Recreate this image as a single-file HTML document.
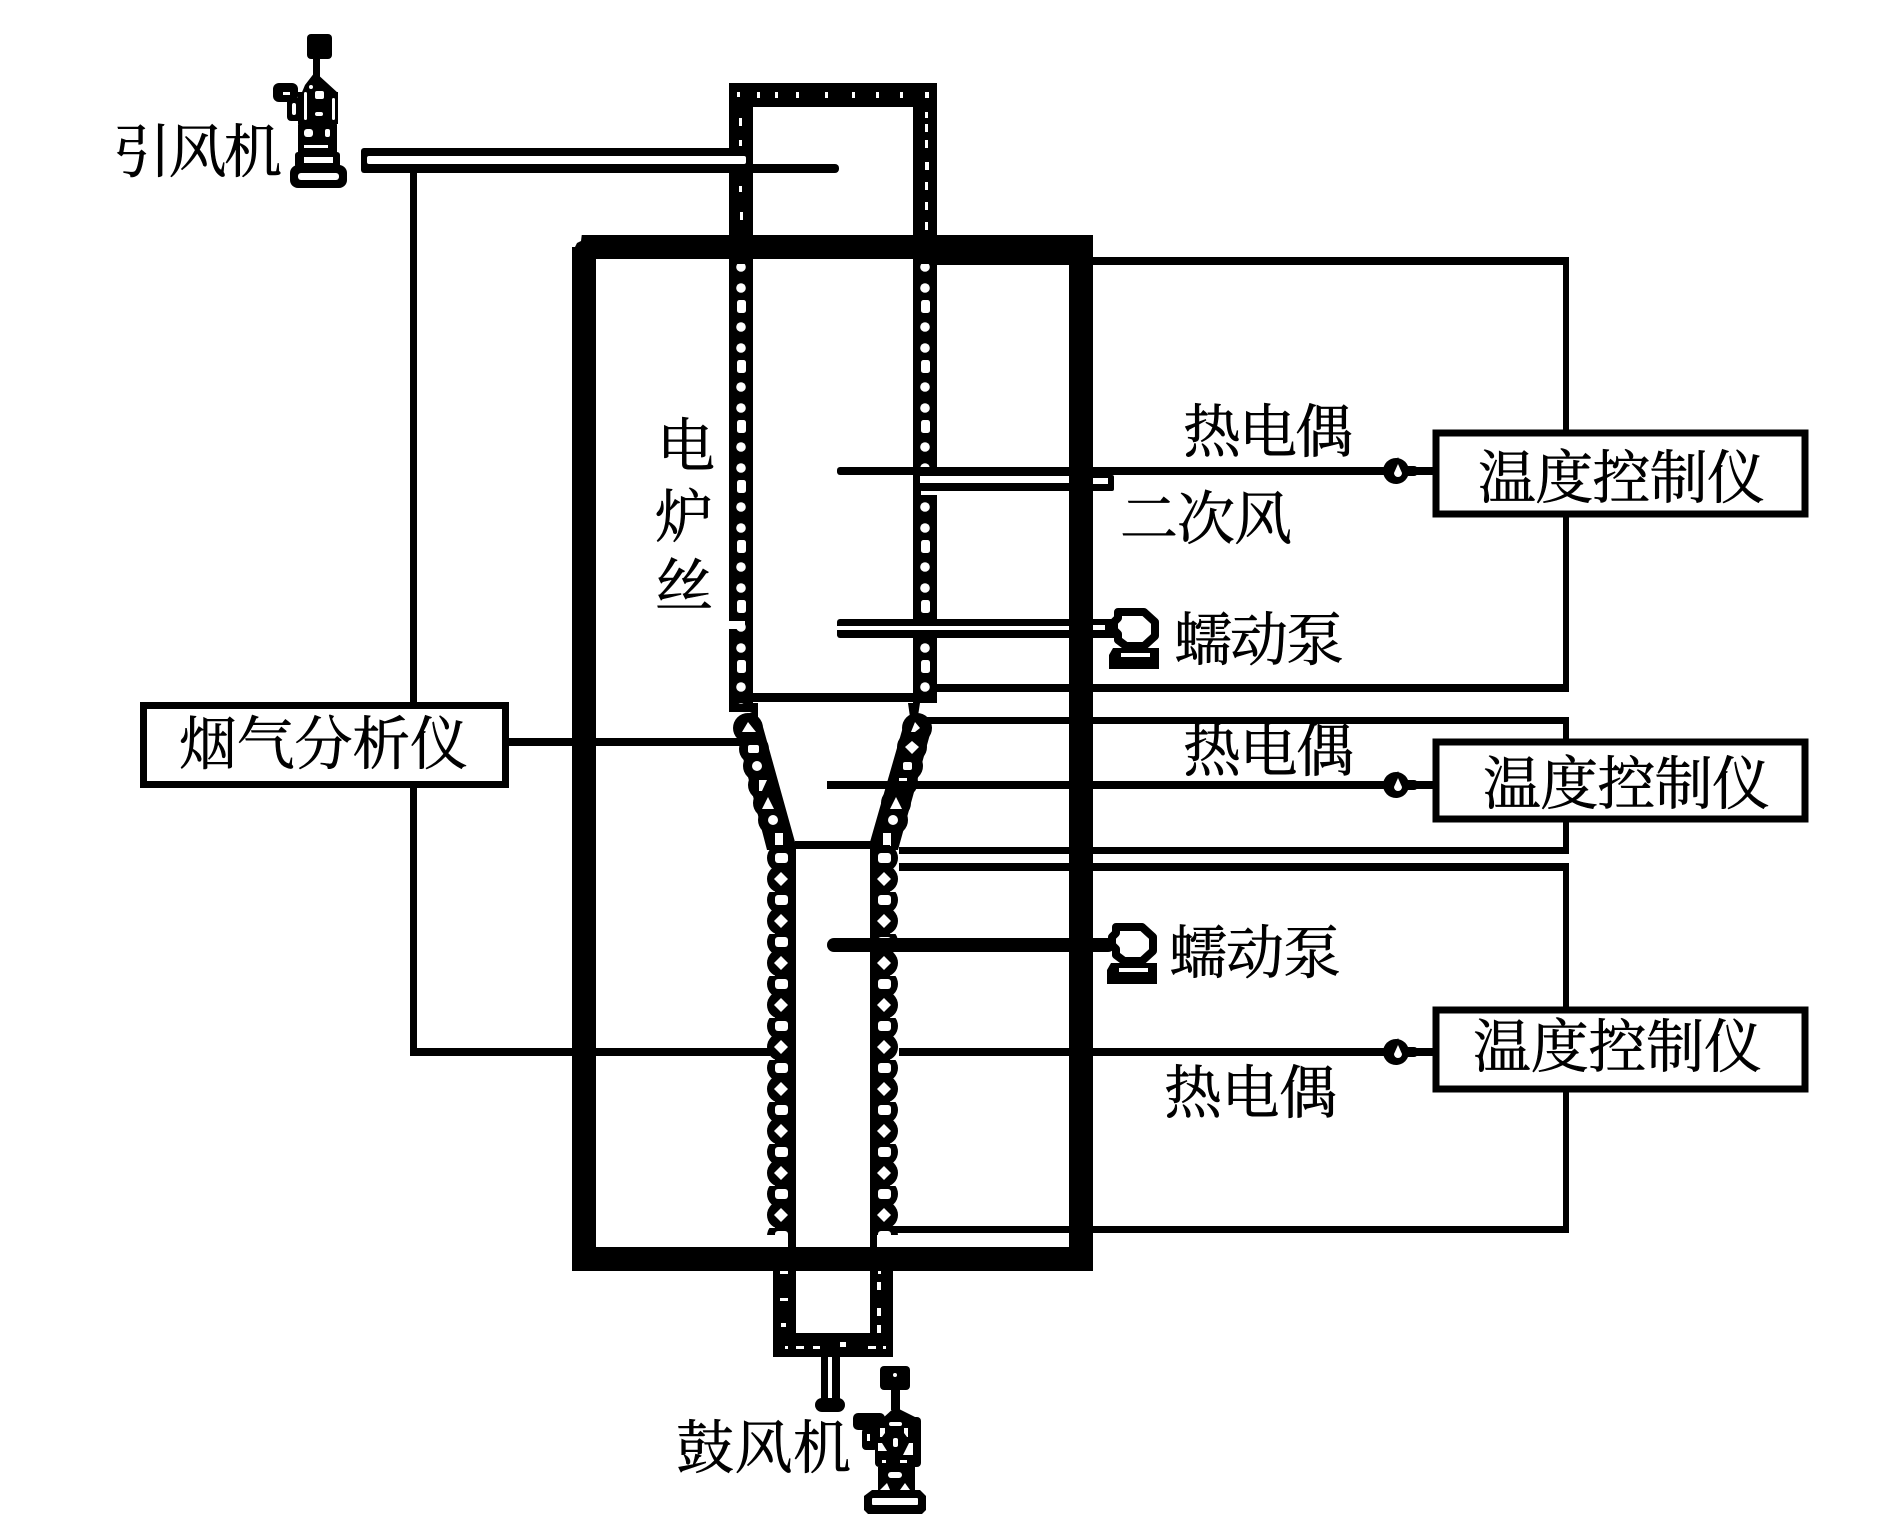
<!DOCTYPE html>
<html><head><meta charset="utf-8"><style>
html,body{margin:0;padding:0;background:#fff;width:1887px;height:1535px;overflow:hidden}
svg{display:block}
text{font-family:"Liberation Serif","Noto Serif CJK SC",serif;font-size:58px;fill:#000;stroke:#000;stroke-width:.6px}
</style></head><body>
<svg width="1887" height="1535" viewBox="0 0 1887 1535" xmlns="http://www.w3.org/2000/svg">
<defs>
<pattern id="upL" patternUnits="userSpaceOnUse" x="736" y="400" width="11" height="60">
<circle cx="5" cy="8" r="4.8" fill="#fff"/><rect x="1" y="20" width="9" height="13" rx="2.5" fill="#fff"/><circle cx="5" cy="47" r="4.8" fill="#fff"/>
</pattern>
<pattern id="upR" patternUnits="userSpaceOnUse" x="920" y="400" width="11" height="60">
<circle cx="5" cy="8" r="4.8" fill="#fff"/><rect x="1" y="20" width="9" height="13" rx="2.5" fill="#fff"/><circle cx="5" cy="47" r="4.8" fill="#fff"/>
</pattern>
<pattern id="lowL" patternUnits="userSpaceOnUse" x="760" y="850" width="40" height="42">
<circle cx="21" cy="8" r="14" fill="#000"/><circle cx="21" cy="29" r="14" fill="#000"/>
<rect x="15" y="3" width="13" height="10" rx="3" fill="#fff"/><path d="M21 22l7 7-7 7-7-7z" fill="#fff"/>
</pattern>
<pattern id="lowR" patternUnits="userSpaceOnUse" x="864" y="850" width="40" height="42">
<circle cx="20" cy="8" r="14" fill="#000"/><circle cx="20" cy="29" r="14" fill="#000"/>
<rect x="14" y="3" width="13" height="10" rx="3" fill="#fff"/><path d="M20 22l7 7-7 7-7-7z" fill="#fff"/>
</pattern>
<g id="pump">
<path d="M1126 612h18l11 10v14l-11 10h-18l-8-6v-6l-4-4v-8l4-4v-6z" fill="#fff" stroke="#000" stroke-width="8" stroke-linejoin="round"/>
<path d="M1113 648h46v21h-50v-14z" fill="#000"/>
<rect x="1121" y="653" width="29" height="4" fill="#fff"/>
</g>
<g id="tc">
<circle cx="1396" cy="471" r="13" fill="#000"/><rect x="1383" y="466" width="35" height="10" rx="4" fill="#000"/>
<path d="M1398 457l6 14-6 12-6-12z" fill="#000"/>
<path d="M1398 464l4 9a4 4 0 0 1-8 0z" fill="#fff"/>
</g>
</defs>
<rect width="1887" height="1535" fill="#fff"/>

<!-- signal lines -->
<g fill="#000">
<rect x="410" y="170" width="7" height="885"/>
<rect x="410" y="1048" width="360" height="8"/>
<rect x="899" y="1048" width="534" height="8"/>
<rect x="508" y="738" width="232" height="8"/>
<rect x="936" y="257" width="633" height="8"/>
<rect x="1563" y="257" width="6" height="435"/>
<rect x="937" y="684" width="632" height="8"/>
<rect x="927" y="717" width="642" height="7"/>
<rect x="1563" y="717" width="6" height="137"/>
<rect x="899" y="847" width="670" height="7"/>
<rect x="899" y="863" width="670" height="8"/>
<rect x="1563" y="863" width="6" height="370"/>
<rect x="877" y="1226" width="692" height="7"/>
</g>

<!-- outer furnace box -->
<rect x="584" y="247" width="497" height="1012" fill="none" stroke="#000" stroke-width="24"/>
<path d="M570 233h12l-1 8-4 2-2 4h-5z" fill="#fff"/>

<!-- upper reactor walls -->
<rect x="730" y="83" width="207" height="24" fill="#000"/>
<rect x="729" y="83" width="24" height="629" fill="#000"/>
<rect x="913" y="83" width="24" height="620" fill="#000"/>
<rect x="736" y="264" width="11" height="440" fill="url(#upL)"/>
<rect x="920" y="264" width="11" height="430" fill="url(#upR)"/>
<g fill="#fff">
<rect x="737" y="92" width="3" height="5"/><rect x="757" y="92" width="3" height="6"/><rect x="775" y="92" width="3" height="6"/><rect x="796" y="92" width="3" height="6"/><rect x="825" y="92" width="3" height="6"/><rect x="852" y="92" width="3" height="6"/><rect x="876" y="92" width="3" height="6"/><rect x="900" y="92" width="3" height="6"/><rect x="925" y="92" width="4" height="6"/>
<rect x="739" y="118" width="3" height="8"/><rect x="739" y="140" width="3" height="6"/><rect x="739" y="186" width="3" height="6"/><rect x="740" y="212" width="3" height="8"/>
<rect x="925" y="112" width="3" height="6"/><rect x="925" y="124" width="3" height="8"/><rect x="925" y="140" width="3" height="8"/><rect x="925" y="162" width="4" height="8"/><rect x="925" y="182" width="3" height="8"/><rect x="925" y="202" width="3" height="8"/><rect x="925" y="222" width="3" height="8"/>
</g>
<rect x="753" y="693" width="160" height="9" fill="#000"/>

<!-- cone -->
<polygon points="745,715 752,712 752,703 758,703 758,718 763,727 795,842 796,850 767,850 735,727" fill="#000"/>
<polygon points="908,703 920,703 918,716 932,727 898,850 870,850 870,842 903,727 910,717" fill="#000"/>
<g fill="#000">
<circle cx="748" cy="728" r="15"/><circle cx="754" cy="749" r="15"/><circle cx="758" cy="766" r="15"/><circle cx="763" cy="785" r="15"/><circle cx="768" cy="803" r="15"/><circle cx="773" cy="820" r="15"/>
<circle cx="917" cy="728" r="15"/><circle cx="912" cy="747" r="15"/><circle cx="908" cy="766" r="15"/><circle cx="903" cy="782" r="15"/><circle cx="896" cy="803" r="15"/><circle cx="893" cy="820" r="15"/>
</g>
<g fill="#fff">
<path d="M748 722l8 10h-14z"/><rect x="748" y="745" width="11" height="8" rx="2"/><circle cx="757" cy="766" r="5"/><path d="M759 780h8l-5 11h-3z"/><path d="M768 797l6 12h-12z"/><circle cx="773" cy="820" r="5"/><rect x="775" y="833" width="8" height="13"/>
<path d="M915 722l5 6-5 4h-4z"/><path d="M912 741l7 6-7 7-7-7z"/><rect x="903" y="762" width="9" height="8" rx="2"/><rect x="899" y="778" width="8" height="3"/><path d="M896 797l6 12h-12z"/><circle cx="893" cy="820" r="5"/><rect x="883" y="833" width="8" height="13"/>
</g>
<rect x="795" y="841" width="76" height="8" fill="#000"/>

<!-- lower reactor walls -->
<rect x="775" y="845" width="21" height="390" fill="#000"/>
<rect x="870" y="845" width="20" height="390" fill="#000"/>
<rect x="760" y="850" width="36" height="385" fill="url(#lowL)"/>
<rect x="864" y="850" width="36" height="385" fill="url(#lowR)"/>
<rect x="788" y="1233" width="8" height="15" fill="#000"/>
<rect x="870" y="1233" width="7" height="15" fill="#000"/>

<!-- bottom duct -->
<path fill-rule="evenodd" d="M773 1269H893V1357H773ZM796 1269V1333H870V1269Z" fill="#000"/>
<g fill="#fff">
<rect x="780" y="1271" width="8" height="3"/><rect x="780" y="1298" width="8" height="3"/><rect x="781" y="1323" width="5" height="4"/>
<rect x="878" y="1271" width="3" height="3"/><rect x="877" y="1282" width="4" height="8"/><rect x="877" y="1308" width="4" height="8"/><rect x="877" y="1325" width="4" height="8"/>
<rect x="785" y="1346" width="3" height="3"/><rect x="796" y="1346" width="8" height="3"/><rect x="813" y="1346" width="7" height="3"/><rect x="840" y="1342" width="6" height="5"/><rect x="868" y="1346" width="8" height="3"/><rect x="883" y="1346" width="3" height="3"/>
</g>
<rect x="821" y="1357" width="19" height="45" fill="#000"/>
<rect x="828" y="1357" width="4" height="42" fill="#fff"/>
<rect x="815" y="1398" width="30" height="14" rx="7" fill="#000"/>

<!-- induced-draft pipe -->
<rect x="361" y="148" width="385" height="25" rx="3" fill="#000"/>
<rect x="367" y="156" width="379" height="8" rx="2" fill="#fff"/>
<rect x="740" y="164" width="99" height="9" rx="4" fill="#000"/>

<!-- probes -->
<rect x="837" y="467" width="596" height="8" rx="3" fill="#000"/>
<rect x="920" y="475" width="194" height="16" rx="2" fill="#000"/>
<rect x="920" y="476" width="149" height="7" fill="#fff"/>
<rect x="1093" y="478" width="15" height="6" fill="#fff"/>
<rect x="921" y="491" width="16" height="4" fill="#fff"/>
<rect x="837" y="619" width="283" height="19" rx="3" fill="#000"/>
<rect x="837" y="626" width="232" height="4" fill="#fff"/>
<rect x="1093" y="625" width="12" height="5" fill="#fff"/>
<rect x="729" y="621" width="16" height="8" fill="#fff"/>
<rect x="827" y="781" width="111" height="8" rx="4" fill="#000"/>
<rect x="827" y="938" width="288" height="14" rx="7" fill="#000"/>

<!-- boxes -->
<g fill="#fff" stroke="#000" stroke-width="7">
<rect x="1436" y="433" width="369" height="81"/>
<rect x="1436" y="742" width="369" height="77"/>
<rect x="1436" y="1010" width="369" height="79"/>
<rect x="143.500" y="705.500" width="362" height="79"/>
</g>
<rect x="1410" y="467" width="23" height="8" fill="#000"/>
<rect x="827" y="781" width="606" height="8" fill="#000"/>
<rect x="1410" y="1048" width="23" height="8" fill="#000"/>

<!-- thermocouple joints, pumps -->
<use href="#tc"/>
<use href="#tc" transform="translate(0,314)"/>
<use href="#tc" transform="translate(0,581)"/>
<use href="#pump"/>
<use href="#pump" transform="translate(-2,315)"/>

<!-- top fan -->
<g fill="#000">
<rect x="307" y="34" width="25" height="25" rx="4"/>
<rect x="313" y="59" width="7" height="18"/>
<polygon points="315,72 338,93 338,97 300,97 305,85"/>
<rect x="273" y="83" width="25" height="19" rx="6"/>
<rect x="287" y="98" width="16" height="23" rx="4"/>
<rect x="298" y="92" width="40" height="32"/>
<rect x="298" y="122" width="39" height="33" rx="3"/>
<rect x="295" y="152" width="45" height="16" rx="3"/>
<rect x="290" y="165" width="57" height="23" rx="8"/>
</g>
<g fill="#fff">
<rect x="283" y="92" width="7" height="3"/><rect x="292" y="103" width="4" height="12" rx="2"/>
<circle cx="311" cy="87" r="2"/><rect x="304" y="92" width="3" height="28" rx="1.500"/><rect x="315" y="91" width="9" height="8" rx="2"/><rect x="315" y="112" width="8" height="4" rx="2"/><rect x="332" y="98" width="3" height="22" rx="1.500"/>
<rect x="304" y="129" width="9" height="8" rx="3"/><rect x="325" y="129" width="5" height="8" rx="2"/><rect x="304" y="145" width="24" height="3"/>
<rect x="304" y="157" width="29" height="6"/><rect x="298" y="173" width="41" height="7" rx="3"/>
</g>
<!-- bottom fan -->
<g fill="#000">
<rect x="880" y="1366" width="30" height="24" rx="4"/>
<rect x="891" y="1390" width="9" height="20"/>
<polygon points="895,1407 917,1418 883,1418"/>
<rect x="853" y="1413" width="32" height="17" rx="5"/>
<rect x="862" y="1428" width="16" height="22" rx="4"/>
<rect x="875" y="1417" width="46" height="50" rx="4"/>
<rect x="878" y="1467" width="37" height="23"/>
<path d="M872 1490h48l6 6v14l-4 4h-54l-4-4v-14z"/>
</g>
<g fill="#fff">
<circle cx="895" cy="1375" r="2"/>
<rect x="889" y="1422" width="13" height="4" rx="2"/>
<rect x="867" y="1434" width="3" height="7"/>
<path d="M880 1428h5v5l-3 4h-2z"/><path d="M878 1443h4l5 8h-9z"/>
<path d="M904 1428h4v9h-1l-3-4z"/><path d="M909 1443h4v12h-10z"/>
<rect x="893" y="1438" width="5" height="9" rx="2"/>
<rect x="882" y="1460" width="4" height="3"/><rect x="900" y="1460" width="7" height="3"/>
<rect x="888" y="1472" width="14" height="6" rx="3"/>
<polygon points="880,1490 887,1483 890,1490"/><polygon points="900,1490 905,1483 910,1490"/>
<rect x="872" y="1498" width="46" height="7" rx="1"/>
</g>

<!-- labels -->
<text x="113" y="172" textLength="169">引风机</text>
<text x="676" y="1468" textLength="175">鼓风机</text>
<text x="1183" y="452" textLength="170">热电偶</text>
<text x="1183" y="771" textLength="171">热电偶</text>
<text x="1164" y="1113" textLength="173">热电偶</text>
<text x="1120" y="539" textLength="172">二次风</text>
<text x="1174" y="660" textLength="170">蠕动泵</text>
<text x="1169" y="973" textLength="172">蠕动泵</text>
<text x="1478" y="498" textLength="287">温度控制仪</text>
<text x="1483" y="804" textLength="287">温度控制仪</text>
<text x="1473" y="1067" textLength="289">温度控制仪</text>
<text x="179" y="764" textLength="289">烟气分析仪</text>
<text x="657" y="466">电</text>
<text x="655" y="537">炉</text>
<text x="655" y="606">丝</text>
</svg>
</body></html>
